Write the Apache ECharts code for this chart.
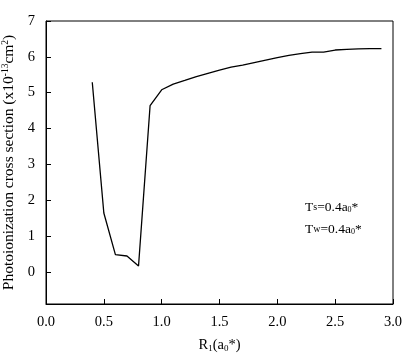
<!DOCTYPE html>
<html><head><meta charset="utf-8">
<script src="https://cdn.jsdelivr.net/npm/echarts@6/dist/echarts.min.js"></script>
<style>html,body{margin:0;padding:0;background:#fff}#c{width:415px;height:361px}</style>
</head><body><div id="c"></div>
<script>
const xValues = [0.4,0.5,0.6,0.7,0.8,0.9,1.0,1.1,1.2,1.3,1.4,1.5,1.6,1.7,1.8,1.9,2.0,2.1,2.2,2.3,2.4,2.5,2.6,2.7,2.8,2.9];
const yValues = [5.29,1.64,0.48,0.44,0.16,4.64,5.08,5.24,5.34,5.45,5.54,5.63,5.71,5.77,5.84,5.91,5.98,6.04,6.09,6.13,6.13,6.19,6.21,6.22,6.23,6.23];
const xTicks = [0,0.5,1,1.5,2,2.5,3];
const yTicks = [0,1,2,3,4,5,6,7];

const font = 'Liberation Serif';
const chart = echarts.init(document.getElementById('c'), null, {renderer:'canvas'});
chart.setOption({
  animation:false,
  backgroundColor:'#fff',
  grid:{left:46, top:21, right:22, bottom:57, containLabel:false, outerBoundsMode:'none', show:true, borderColor:'#000', borderWidth:1, backgroundColor:'transparent'},
  xAxis:{
    type:'value', min:0, max:3, interval:0.5,
    axisLine:{show:true, onZero:false, lineStyle:{color:'#000', width:1}},
    axisTick:{show:true, inside:true, length:5, lineStyle:{color:'#000'}, customValues:xTicks},
    axisLabel:{fontFamily:font, fontSize:14.5, color:'#000', margin:11, customValues:xTicks,
      formatter:v=>v.toFixed(1)},
    splitLine:{show:false},
    name:'{n|R}{s|1}{n|(a}{s|0}{n|*)}', nameLocation:'middle', nameGap:33,
    nameTextStyle:{rich:{n:{fontFamily:font,fontSize:14.5,color:'#000'}, s:{fontFamily:font,fontSize:9,color:'#000',verticalAlign:'bottom',padding:[7,0,0,0]}}}
  },
  yAxis:{
    type:'value', min:-0.9, max:7,
    axisLine:{show:true, onZero:false, lineStyle:{color:'#000', width:1}},
    axisTick:{show:true, inside:true, length:5, lineStyle:{color:'#000'}, customValues:yTicks},
    axisLabel:{fontFamily:font, fontSize:14.5, color:'#000', margin:11, customValues:yTicks},
    splitLine:{show:false},
    name:'{n|Photoionization cross section (x10}{u|-13}{n|cm}{u|2}{n|)}', nameLocation:'middle', nameGap:26, nameRotate:90,
    nameTextStyle:{rich:{n:{fontFamily:font,fontSize:15.5,color:'#000'}, u:{fontFamily:font,fontSize:9.5,color:'#000',verticalAlign:'top',padding:[0,0,7,0]}}}
  },
  series:[{
    type:'line', data:xValues.map((x,i)=>[x,yValues[i]]),
    showSymbol:false, symbol:'none', lineStyle:{color:'#000', width:1.3}
  }],
  graphic:[
    {type:'text', left:305, top:200, style:{text:'{n|T}{s|s}{n|=0.4a}{b|0}{n|*}', rich:{
      n:{fontFamily:font,fontSize:13.5,fill:'#000'}, s:{fontFamily:font,fontSize:10,fill:'#000'},
      b:{fontFamily:font,fontSize:8,fill:'#000',verticalAlign:'bottom',padding:[6,0,0,0]}}}},
    {type:'text', left:305, top:222, style:{text:'{n|T}{s|w}{n|=0.4a}{b|0}{n|*}', rich:{
      n:{fontFamily:font,fontSize:13.5,fill:'#000'}, s:{fontFamily:font,fontSize:10,fill:'#000'},
      b:{fontFamily:font,fontSize:8,fill:'#000',verticalAlign:'bottom',padding:[6,0,0,0]}}}}
  ]
});
</script></body></html>
